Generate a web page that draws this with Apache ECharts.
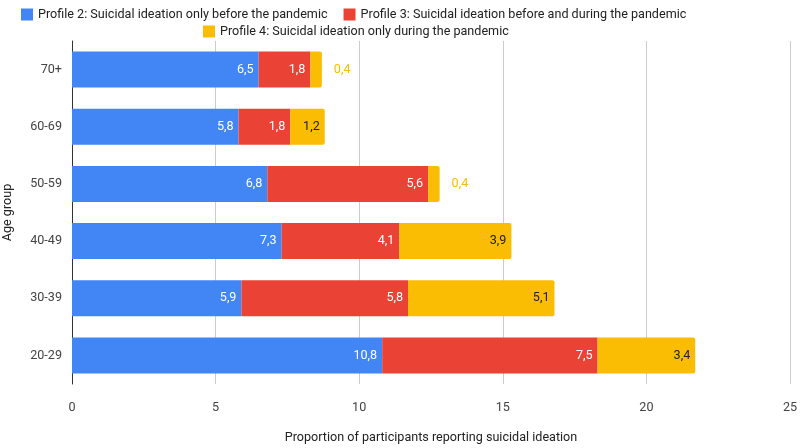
<!DOCTYPE html>
<html><head><meta charset="utf-8">
<script src="https://cdn.jsdelivr.net/npm/echarts@6/dist/echarts.min.js"></script>
<style>html,body{margin:0;padding:0;background:#fff}#c{width:800px;height:448px}</style>
</head><body><div id="c"></div>
<script>
const categories = ['20-29','30-39','40-49','50-59','60-69','70+'];
const profile2 = [10.8, 5.9, 7.3, 6.8, 5.8, 6.5];
const profile3 = [7.5, 5.8, 4.1, 5.6, 1.8, 1.8];
const profile4 = [3.4, 5.1, 3.9, 0.4, 1.2, 0.4];
const seriesNames = [
  'Profile 2: Suicidal ideation only before the pandemic',
  'Profile 3: Suicidal ideation before and during the pandemic',
  'Profile 4: Suicidal ideation only during the pandemic'
];
const xTicks = [0, 5, 10, 15, 20, 25];
const colors = ['#4285F4', '#EA4335', '#FBBC04'];

const fmt = p => String(p.value).replace('.', ',');
const font = 'Roboto, Arial, sans-serif';
const fs = 12.6;

const yellowData = profile4.map(v => v < 1 ? {
  value: v,
  label: { position: 'right', distance: 12, color: '#FBBC04' }
} : v);

const chart = echarts.init(document.getElementById('c'));
chart.setOption({
  animation: false,
  textStyle: { fontFamily: font },
  legend: [
    {
      data: [seriesNames[0], seriesNames[1]],
      left: 16, top: 3, itemWidth: 12, itemHeight: 12, itemGap: 16,
      icon: 'rect',
      textStyle: { fontSize: fs, color: '#222', fontFamily: font }
    },
    {
      data: [seriesNames[2]],
      left: 198, top: 20, itemWidth: 12, itemHeight: 12,
      icon: 'rect',
      textStyle: { fontSize: fs, color: '#222', fontFamily: font }
    }
  ],
  grid: { left: 72, right: 10, top: 41, bottom: 64, containLabel: false, outerBoundsMode: 'none' },
  xAxis: {
    type: 'value', min: 0, max: 25, interval: 5,
    name: 'Proportion of participants reporting suicidal ideation',
    nameLocation: 'middle', nameGap: 47,
    nameTextStyle: { fontSize: fs, color: '#222' },
    axisLine: { show: false }, axisTick: { show: false },
    axisLabel: { fontSize: fs, color: '#444', margin: 17,
      formatter: v => xTicks.includes(v) ? String(v) : '' },
    splitLine: { lineStyle: { color: '#ccc' } }
  },
  yAxis: {
    type: 'category', data: categories,
    name: 'Age group', nameLocation: 'middle', nameGap: 58, nameRotate: 90,
    nameTextStyle: { fontSize: fs, color: '#222' },
    axisLine: { show: true, lineStyle: { color: '#333' } },
    axisTick: { show: false },
    axisLabel: { fontSize: fs, color: '#444', margin: 10 }
  },
  series: [
    { name: seriesNames[0], type: 'bar', stack: 'a', data: profile2, barWidth: 36,
      itemStyle: { color: colors[0] },
      label: { show: true, position: 'insideRight', color: '#fff', fontSize: fs, formatter: fmt } },
    { name: seriesNames[1], type: 'bar', stack: 'a', data: profile3, barWidth: 36,
      itemStyle: { color: colors[1] },
      label: { show: true, position: 'insideRight', color: '#fff', fontSize: fs, formatter: fmt } },
    { name: seriesNames[2], type: 'bar', stack: 'a', data: yellowData, barWidth: 36,
      itemStyle: { color: colors[2], borderRadius: [0, 2, 2, 0] },
      label: { show: true, position: 'insideRight', color: '#222', fontSize: fs, formatter: fmt } }
  ]
});
</script></body></html>
